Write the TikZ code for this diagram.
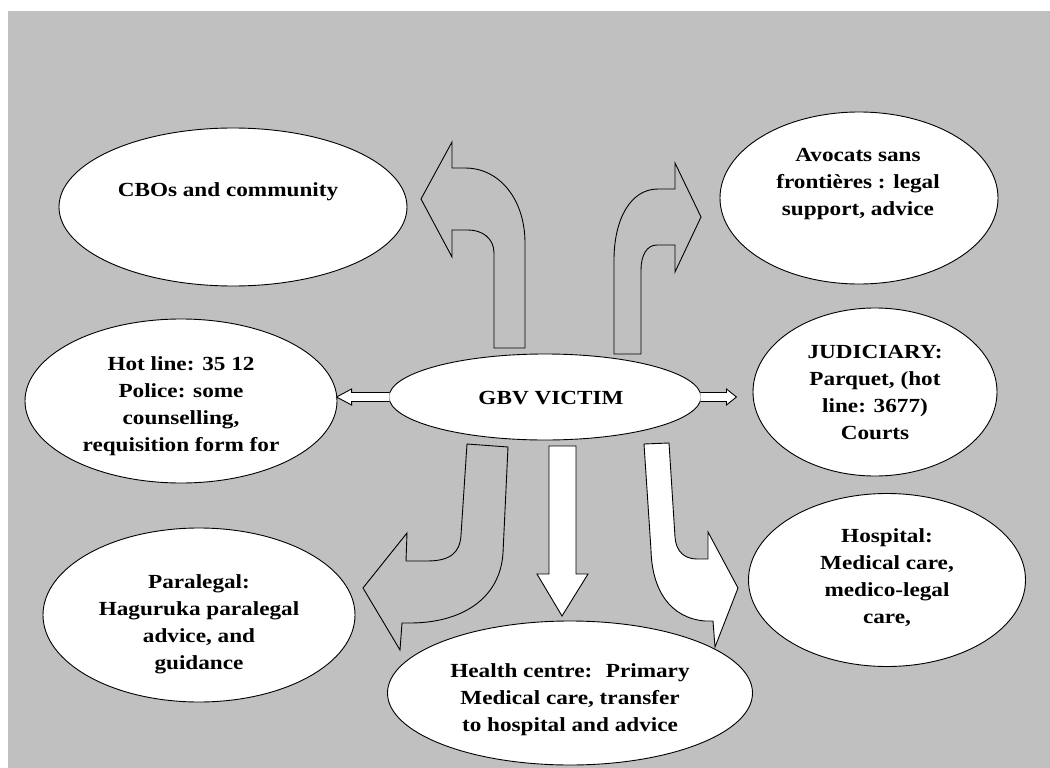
\documentclass[tikz,border=0pt]{standalone}
\usepackage{fontspec}
\setmainfont{Liberation Serif}[FakeStretch=1.16]
\usetikzlibrary{shapes.geometric,calc}
\definecolor{bggray}{RGB}{192,192,192}

\begin{document}
\begin{tikzpicture}[x=1pt,y=-1pt,
  oval/.style={ellipse, draw, fill=white, line width=0.9pt, inner sep=0},
  txt/.style={align=center, inner sep=0, font=\fontsize{20}{27}\selectfont\bfseries},
  blk/.style={draw, line width=0.9pt, line join=miter}]
\useasboundingbox (0,0) rectangle (1050,768);
\fill[bggray] (8,11) rectangle (1050,768);

% block arrows
\draw[blk] (494,348) -- (494,253) .. controls (494,238) and (482,230) .. (468,230) -- (452,230) -- (452,257) -- (421,199) -- (452,142) -- (452,168) -- (465,168) .. controls (500,168) and (525,200) .. (525,243) -- (525,348) -- cycle;
\draw[blk] (641,354) -- (641,270) .. controls (641,255) and (647,245) .. (657,245) -- (675,245) -- (675,272) -- (701,217) -- (675,163) -- (675,189) -- (658,189) .. controls (630,189) and (614,220) .. (614,260) -- (614,354) -- cycle;
\draw[blk] (467,444) -- (508,447) -- (503,553) .. controls (500,600) and (460,623) .. (410,623) -- (402,623) -- (400,650) -- (363,588) -- (407,533) -- (406,561) -- (427,561) .. controls (450,561) and (460,553) .. (461,535) -- cycle;
\draw[blk, fill=white] (549,446) -- (576,446) -- (576,574) -- (588,574) -- (562,616) -- (537,574) -- (549,574) -- cycle;
\draw[blk, fill=white] (644,444) -- (669,443) -- (675,537) .. controls (676,552) and (685,559) .. (697,559) -- (708,559) -- (708,532) -- (738,588) -- (715,647) -- (713,621) -- (705,621) .. controls (670,618) and (652,590) .. (651,550) -- cycle;

% ovals
\node[oval, minimum width=348, minimum height=158] (cbo) at (233,207) {};
\node[oval, minimum width=278, minimum height=172] (avocats) at (859,198) {};
\node[oval, minimum width=312, minimum height=164] (hotline) at (181,401) {};
\node[oval, minimum width=312, minimum height=86] (victim) at (545,397) {};
\node[oval, minimum width=244, minimum height=168] (judiciary) at (875,392) {};
\node[oval, minimum width=277, minimum height=173] (hospital) at (887,580) {};
\node[oval, minimum width=312, minimum height=174] (paralegal) at (199,615) {};
\node[oval, minimum width=365, minimum height=144] (health) at (570,693) {};

% texts
\node[txt] (cbotxt) at (228,192) {CBOs and community};
\node[txt] (avocatstxt) at (858,184) {Avocats sans\\frontières : legal\\support, advice};
\node[txt] (hotlinetxt) at (181,406) {Hot line: 35 12\\Police: some\\counselling,\\requisition form for};
\node[txt] (victimtxt) at (551,398) {GBV VICTIM};
\node[txt] (judiciarytxt) at (875,392) {JUDICIARY:\\Parquet, (hot\\line: 3677)\\Courts};
\node[txt] (hospitaltxt) at (887,578) {Hospital:\\Medical care,\\medico-legal\\care,};
\node[txt] (paralegaltxt) at (199,624) {Paralegal:\\Haguruka paralegal\\advice, and\\guidance};
\node[txt] (healthtxt) at (570,700) {Health centre:~ Primary\\Medical care, transfer\\to hospital and advice};

% small arrows
\filldraw[blk, fill=white] ($(victim.west)+(1,-4.5)$) -- ++(-38,0) -- ++(0,-3.5) -- ($(victim.west)+(-52,0)$) -- ++(15,8) -- ++(0,-3.5) -- ($(victim.west)+(1,4.5)$);
\filldraw[blk, fill=white] ($(victim.east)+(-1,-4.5)$) -- ++(26,0) -- ++(0,-3.5) -- ($(victim.east)+(35,0)$) -- ++(-10,8) -- ++(0,-3.5) -- ($(victim.east)+(-1,4.5)$);

\end{tikzpicture}
\end{document}
